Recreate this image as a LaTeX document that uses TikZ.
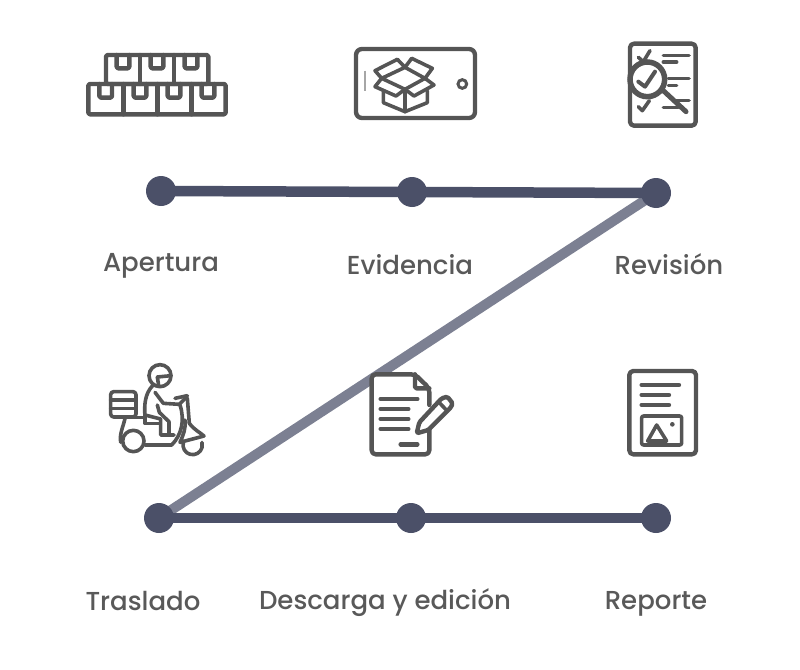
\documentclass[tikz,border=0pt]{standalone}
\usepackage{fontspec}
\usetikzlibrary{backgrounds}
\setmainfont{Poppins}
\newfontfamily\labfont{Poppins Medium}
\tikzset{
  dotn/.style={circle,fill=navy,inner sep=0pt,minimum size=30pt},
  lab/.style={text=labc,font=\fontsize{26}{30}\labfont,inner sep=0pt,anchor=base},
  ic/.style={draw=iconc,line width=4.4pt,line join=round,line cap=round,rounded corners=1.5pt},
  thin ic/.style={draw=iconc,line width=3.6pt,line join=round,line cap=round},
  link/.style={line width=10.5pt,draw=navy},
  diag/.style={line width=10pt,draw=slate}
}
\definecolor{navy}{HTML}{4B5068}
\definecolor{slate}{HTML}{7C8092}
\definecolor{labc}{HTML}{595959}
\definecolor{iconc}{HTML}{555555}
\begin{document}
\begin{tikzpicture}[x=1pt,y=-1pt]
\useasboundingbox (0,0) rectangle (800,669);
\node[dotn] (a) at (161,191) {};
\node[dotn] (b) at (412,192) {};
\node[dotn] (c) at (656,193) {};
\node[dotn] (d) at (159,518) {};
\node[dotn] (e) at (411,518) {};
\node[dotn] (f) at (656,518) {};
\begin{scope}[on background layer]
\draw[diag] (c.center) -- (d.center);
\draw[link] (a.center) -- (b.center);
\draw[link] (b.center) -- (c.center);
\draw[link] (d.center) -- (e.center);
\draw[link] (e.center) -- (f.center);
\end{scope}
\node[lab] (l1) at (161,271) {Apertura};
\node[lab] (l2) at (410,274) {Evidencia};
\node[lab] (l3) at (669,274) {Revisión};
\node[lab] (l4) at (143,610) {Traslado};
\node[lab] (l5) at (385,609) {Descarga y edición};
\node[lab] (l6) at (656,609) {Reporte};
% icon 1: boxes
\begin{scope}[shift={(70,30)},scale=1/3]
\draw[ic] (108,75) rectangle (415,162);
\draw[ic] (55,162) rectangle (467,253);
\foreach \x in {210,312} \draw[ic] (\x,75)--(\x,162);
\foreach \x in {160,262,365} \draw[ic] (\x,162)--(\x,253);
\foreach \x in {159,261,363} \draw[ic] (\x-19,75)--(\x-19,115)--(\x+19,115)--(\x+19,75);
\foreach \x in {107,210,312,414} \draw[ic] (\x-19,162)--(\x-19,203)--(\x+19,203)--(\x+19,162);
\end{scope}
% icon 2: tablet box
\begin{scope}[shift={(340,30)},scale=1/3]
\draw[ic,rounded corners=6pt] (48,57) rectangle (405,264);
\draw[draw=gray!70,line width=2pt] (74,122)--(74,184);
\draw[iconc,line width=3pt] (367,162) circle (13);
\draw[thin ic] (125,145)--(195,112)--(255,145)--(195,178)--cycle;
\draw[thin ic] (125,145)--(105,122)--(172,88)--(195,112)--(215,85)--(277,115)--(255,145);
\draw[thin ic] (125,145)--(105,170)--(168,198)--(195,178)--(222,198)--(282,165)--(255,145);
\draw[thin ic] (130,182)--(130,218)--(195,245)--(262,218)--(262,182);
\draw[thin ic] (195,178)--(195,245);
\end{scope}
% icon 3: review
\begin{scope}[shift={(610,30)},scale=1/3]
\draw[ic,rounded corners=4pt] (60,41) rectangle (257,287);
\draw[thin ic] (85,82)--(100,95)--(120,62);
\draw[thin ic] (85,230)--(97,242)--(118,212);
\draw[thin ic] (160,76)--(237,76);
\draw[thin ic] (160,96)--(200,96);
\draw[thin ic] (175,146)--(237,146);
\draw[thin ic] (175,166)--(200,166);
\draw[thin ic] (190,212)--(237,212);
\draw[thin ic] (160,232)--(205,232);
\draw[draw=iconc,line width=5.5pt,fill=white] (112,148) circle (52);
\draw[thin ic,line width=4pt] (85,155)--(105,170)--(135,125);
\draw[draw=iconc,line width=5pt,line cap=round] (160,182)--(228,245);
\end{scope}
% icon 4: scooter
\begin{scope}[shift={(100,355)},scale=1/3]
\draw[thin ic] (180,62) circle (33);
\draw[thin ic] (172,66)--(213,62);
\draw[thin ic] (172,66)--(176,92);
\draw[thin ic,rounded corners=3pt] (32,110) rectangle (108,186);
\draw[thin ic] (32,135)--(108,135);
\draw[thin ic] (32,160)--(108,160);
% back and seat
\draw[thin ic] (158,92) .. controls (135,115) and (132,150) .. (135,185);
\draw[thin ic] (70,188)--(135,188)--(135,205)--(178,205);
% arm and hand
\draw[thin ic] (165,112)--(190,145)--(238,148)--(262,124);
\draw[thin ic] (225,130)--(262,122);
% torso, leg
\draw[thin ic] (172,150)--(178,172)--(207,200)--(207,238);
\draw[thin ic] (135,180)--(182,192)--(182,240)--(222,240);
% scooter body
\draw[thin ic] (240,150) .. controls (255,195) and (245,240) .. (215,270)--(135,270);
% rear fender and wheel
\draw[thin ic] (62,262) .. controls (58,235) and (70,215) .. (75,190);
\draw[thin ic] (100,258) circle (32);
% front wheel
\draw[thin ic] (250,262.5) arc[start angle=195,end angle=-15,radius=29];
% front fender
\draw[thin ic,fill=white] (262,130)--(268,205) .. controls (283,225) and (300,232) .. (312,243)--(240,262)
  .. controls (250,240) and (258,220) .. (255,195);
\end{scope}
% icon 5: document with pen
\begin{scope}[shift={(360,365)},scale=1/3]
\draw[ic,rounded corners=4pt,fill=white] (208,120)--(208,70)--(165,28)--(35,28)--(35,268)--(208,268)--(208,180);
\draw[ic] (165,28)--(165,70)--(208,70);
\draw[ic] (62,102)--(172,102);
\draw[ic] (62,132)--(145,132);
\draw[ic] (62,162)--(145,162);
\draw[ic] (62,192)--(145,192);
\draw[ic] (122,238)--(172,238);
\draw[ic,fill=white] (170,205)--(178,172)--(245,100)--(262,95)--(278,115)--(272,128)--(205,195)--cycle;
\draw[thin ic] (235,110)--(262,138);
\end{scope}
% icon 6: report
\begin{scope}[shift={(615,365)},scale=1/3]
\draw[ic,rounded corners=4pt] (43,18) rectangle (243,268);
\draw[ic] (80,60)--(192,60);
\draw[ic] (80,90)--(162,90);
\draw[ic] (80,120)--(162,120);
\draw[thin ic,rounded corners=2pt] (80,153) rectangle (200,240);
\draw[thin ic] (125,180)--(155,228)--(98,228)--cycle;
\fill[iconc] (172,178) circle (7);
\end{scope}
\end{tikzpicture}
\end{document}
